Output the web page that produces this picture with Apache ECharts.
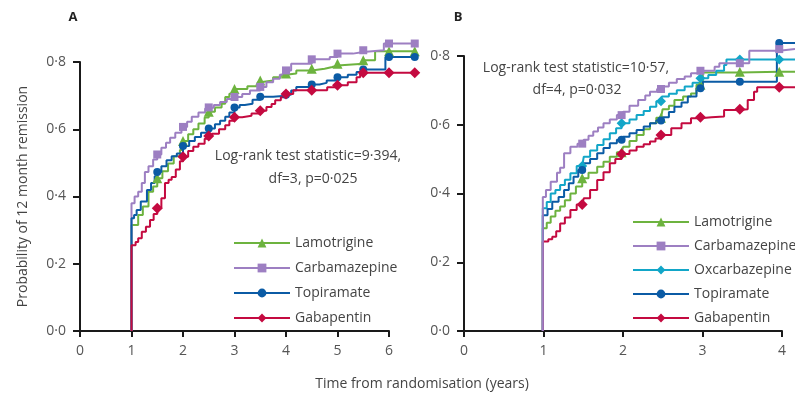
<!DOCTYPE html>
<html>
<head>
<meta charset="utf-8">
<script src="https://cdn.jsdelivr.net/npm/echarts@6/dist/echarts.min.js"></script>
<style>
html, body { margin: 0; padding: 0; background: #fff; }
#chart { width: 795px; height: 400px; }
</style>
</head>
<body>
<div id="chart"></div>
<script>
// tick labels
var yTicks = [0, 0.2, 0.4, 0.6, 0.8];
var yTickLabels = ['0·0', '0·2', '0·4', '0·6', '0·8'];
var marksA = [1.5, 2, 2.5, 3, 3.5, 4, 4.5, 5, 5.5, 6, 6.5];
var marksB = [1.5, 2, 2.5, 3, 3.5, 4];

// panel A (step points)
var lamA_t = [1, 1, 1.13, 1.22, 1.33, 1.42, 1.5, 1.6, 1.71, 1.82, 1.94, 2.0, 2.1, 2.2, 2.3, 2.42, 2.5, 2.62, 2.75, 2.82, 2.9, 3.0, 3.25, 3.45, 3.5, 3.75, 3.9, 4.0, 4.2, 4.5, 4.75, 4.9, 5.0, 5.5, 5.73, 6.0, 6.5];
var lamA_v = [0, 0.315, 0.345, 0.37, 0.414, 0.43, 0.454, 0.475, 0.498, 0.52, 0.538, 0.565, 0.585, 0.6, 0.617, 0.635, 0.652, 0.665, 0.676, 0.696, 0.706, 0.72, 0.728, 0.74, 0.745, 0.755, 0.762, 0.766, 0.775, 0.78, 0.785, 0.79, 0.795, 0.805, 0.832, 0.832, 0.832];
var carA_t = [1, 1, 1.06, 1.13, 1.2, 1.26, 1.33, 1.42, 1.5, 1.58, 1.67, 1.75, 1.85, 1.97, 2.08, 2.17, 2.3, 2.43, 2.5, 2.6, 2.72, 2.85, 3.0, 3.15, 3.3, 3.5, 3.62, 3.75, 3.88, 3.98, 4.1, 4.5, 4.85, 5.0, 5.3, 5.5, 5.9, 6.0, 6.5];
var carA_v = [0, 0.38, 0.4, 0.414, 0.44, 0.473, 0.49, 0.51, 0.525, 0.545, 0.56, 0.575, 0.59, 0.607, 0.622, 0.637, 0.65, 0.662, 0.665, 0.672, 0.681, 0.69, 0.696, 0.705, 0.715, 0.726, 0.74, 0.75, 0.762, 0.775, 0.795, 0.808, 0.815, 0.825, 0.83, 0.835, 0.855, 0.855, 0.855];
var topA_t = [1, 1, 1.05, 1.1, 1.18, 1.3, 1.38, 1.45, 1.5, 1.58, 1.68, 1.78, 1.88, 2.0, 2.12, 2.23, 2.35, 2.5, 2.62, 2.72, 2.82, 2.9, 3.0, 3.1, 3.2, 3.35, 3.5, 3.75, 4.0, 4.1, 4.2, 4.5, 4.65, 4.79, 5.0, 5.2, 5.37, 5.5, 5.93, 6.0, 6.5];
var topA_v = [0, 0.335, 0.345, 0.36, 0.385, 0.419, 0.44, 0.46, 0.473, 0.49, 0.508, 0.52, 0.528, 0.55, 0.565, 0.577, 0.59, 0.602, 0.615, 0.625, 0.637, 0.65, 0.665, 0.672, 0.676, 0.688, 0.697, 0.7, 0.703, 0.715, 0.726, 0.733, 0.738, 0.745, 0.755, 0.762, 0.77, 0.778, 0.815, 0.815, 0.815];
var gabA_t = [1, 1, 1.08, 1.13, 1.2, 1.28, 1.36, 1.43, 1.5, 1.58, 1.65, 1.72, 1.78, 1.86, 1.94, 2.0, 2.1, 2.2, 2.3, 2.42, 2.5, 2.56, 2.7, 2.82, 2.9, 3.0, 3.15, 3.33, 3.5, 3.62, 3.72, 3.79, 3.9, 4.0, 4.14, 4.5, 4.8, 5.0, 5.2, 5.37, 5.44, 5.5, 6.0, 6.5];
var gabA_v = [0, 0.255, 0.265, 0.276, 0.295, 0.31, 0.33, 0.348, 0.365, 0.395, 0.44, 0.45, 0.458, 0.48, 0.505, 0.518, 0.535, 0.548, 0.557, 0.572, 0.58, 0.587, 0.6, 0.612, 0.625, 0.636, 0.64, 0.647, 0.655, 0.666, 0.675, 0.686, 0.695, 0.705, 0.716, 0.716, 0.725, 0.731, 0.74, 0.755, 0.768, 0.768, 0.768, 0.768];

// panel B
var lamB_t = [1, 1, 1.05, 1.1, 1.16, 1.22, 1.28, 1.35, 1.42, 1.5, 1.58, 1.69, 1.77, 1.85, 1.94, 2.02, 2.1, 2.19, 2.28, 2.36, 2.44, 2.52, 2.6, 2.67, 2.78, 2.88, 2.95, 3.03, 3.5, 4.0, 4.2];
var lamB_v = [0, 0.299, 0.315, 0.333, 0.35, 0.362, 0.38, 0.4, 0.42, 0.444, 0.46, 0.478, 0.492, 0.507, 0.52, 0.536, 0.553, 0.57, 0.587, 0.604, 0.62, 0.645, 0.655, 0.672, 0.682, 0.691, 0.716, 0.752, 0.754, 0.754, 0.754];
var carB_t = [1, 1, 1.04, 1.1, 1.18, 1.22, 1.27, 1.35, 1.44, 1.52, 1.58, 1.64, 1.7, 1.77, 1.85, 1.94, 2.02, 2.1, 2.21, 2.3, 2.36, 2.45, 2.51, 2.6, 2.7, 2.8, 2.88, 3.0, 3.18, 3.24, 3.62, 4.0, 4.2];
var carB_v = [0, 0.39, 0.41, 0.434, 0.46, 0.475, 0.517, 0.536, 0.545, 0.556, 0.568, 0.58, 0.592, 0.604, 0.615, 0.628, 0.638, 0.655, 0.672, 0.685, 0.696, 0.704, 0.711, 0.722, 0.733, 0.74, 0.75, 0.757, 0.769, 0.779, 0.815, 0.82, 0.822];
var oxcB_t = [1, 1, 1.05, 1.1, 1.16, 1.22, 1.28, 1.35, 1.43, 1.52, 1.6, 1.69, 1.77, 1.85, 1.93, 2.0, 2.1, 2.19, 2.28, 2.36, 2.44, 2.51, 2.6, 2.7, 2.8, 2.9, 3.0, 3.1, 3.2, 3.3, 3.33, 4.0, 4.2];
var oxcB_v = [0, 0.357, 0.375, 0.4, 0.41, 0.425, 0.44, 0.459, 0.48, 0.507, 0.525, 0.541, 0.558, 0.575, 0.59, 0.604, 0.615, 0.628, 0.64, 0.652, 0.668, 0.682, 0.69, 0.7, 0.711, 0.722, 0.735, 0.745, 0.757, 0.774, 0.79, 0.79, 0.79];
var topB_t = [1, 1, 1.06, 1.12, 1.2, 1.27, 1.33, 1.39, 1.45, 1.52, 1.6, 1.69, 1.77, 1.85, 1.94, 2.02, 2.1, 2.19, 2.28, 2.36, 2.44, 2.52, 2.6, 2.67, 2.76, 2.84, 2.95, 3.03, 3.5, 3.97, 4.0, 4.2];
var topB_v = [0, 0.337, 0.355, 0.376, 0.39, 0.41, 0.43, 0.449, 0.468, 0.488, 0.5, 0.517, 0.532, 0.546, 0.556, 0.565, 0.575, 0.585, 0.595, 0.604, 0.612, 0.622, 0.637, 0.652, 0.665, 0.682, 0.706, 0.725, 0.725, 0.838, 0.838, 0.838];
var gabB_t = [1, 1, 1.07, 1.12, 1.17, 1.22, 1.28, 1.35, 1.43, 1.52, 1.6, 1.69, 1.77, 1.85, 1.92, 2.0, 2.1, 2.19, 2.28, 2.36, 2.43, 2.5, 2.63, 2.76, 2.88, 3.0, 3.14, 3.3, 3.5, 3.6, 3.68, 3.72, 4.0, 4.2];
var gabB_v = [0, 0.26, 0.267, 0.274, 0.29, 0.313, 0.33, 0.352, 0.368, 0.386, 0.41, 0.439, 0.462, 0.488, 0.5, 0.515, 0.525, 0.536, 0.543, 0.551, 0.56, 0.57, 0.59, 0.604, 0.619, 0.622, 0.624, 0.643, 0.645, 0.672, 0.696, 0.709, 0.709, 0.709];

var legendA = ['Lamotrigine', 'Carbamazepine', 'Topiramate', 'Gabapentin'];
var legendB = ['Lamotrigine', 'Carbamazepine', 'Oxcarbazepine', 'Topiramate', 'Gabapentin'];

var colors = {
    Lamotrigine: '#6db33f',
    Carbamazepine: '#9d7fc2',
    Oxcarbazepine: '#12a6c8',
    Topiramate: '#0b5ba5',
    Gabapentin: '#c40a40'
};
var symbols = {
    Lamotrigine: ['triangle', 10],
    Carbamazepine: ['rect', 8],
    Oxcarbazepine: ['diamond', 10],
    Topiramate: ['circle', 8],
    Gabapentin: ['diamond', 11]
};

var font = 'Open Sans';

// step points + markers at the half-year marks (marker sits on the step)
function buildData(ts, vs, marks) {
    var out = [];
    for (var i = 0; i < ts.length; i++) {
        out.push({ value: [ts[i], vs[i]], symbol: 'none' });
    }
    marks.forEach(function(m) {
        var k = -1;
        for (var j = 0; j < out.length; j++) {
            if (out[j].value[0] <= m) k = j;
        }
        if (out[k].value[0] === m) {
            delete out[k].symbol;
        } else {
            out.splice(k + 1, 0, { value: [m, out[k].value[1]] });
        }
    });
    return out;
}

function km(name, ts, vs, marks, idx) {
    return {
        name: name,
        type: 'line',
        step: 'end',
        xAxisIndex: idx,
        yAxisIndex: idx,
        clip: false,
        showSymbol: true,
        symbol: symbols[name][0],
        symbolSize: symbols[name][1],
        color: colors[name],
        lineStyle: { width: 2, color: colors[name] },
        itemStyle: { color: colors[name] },
        emphasis: { disabled: true },
        data: buildData(ts, vs, marks)
    };
}

// visible axes (grids 0 and 2)
function yAxisOpt(idx, withName) {
    return {
        type: 'value',
        gridIndex: idx,
        min: 0,
        max: 0.8,
        interval: 0.2,
        name: withName ? 'Probability of 12 month remission' : '',
        nameLocation: 'middle',
        nameGap: 50,
        nameTextStyle: { fontFamily: font, fontSize: 14, color: '#444' },
        axisLine: { show: true, lineStyle: { color: '#1a1a1a', width: 2 } },
        axisTick: { show: true, length: 7, lineStyle: { color: '#1a1a1a', width: 2 } },
        splitLine: { show: false },
        axisLabel: {
            margin: 14,
            fontFamily: font,
            fontSize: 14,
            color: '#555',
            formatter: function(v) {
                return yTickLabels[yTicks.indexOf(Math.round(v * 10) / 10)];
            }
        }
    };
}

function xAxisOpt(idx, max) {
    return {
        type: 'value',
        gridIndex: idx,
        min: 0,
        max: max,
        interval: 1,
        axisLine: { show: true, onZero: false, lineStyle: { color: '#1a1a1a', width: 2 } },
        axisTick: { show: true, length: 6, lineStyle: { color: '#1a1a1a', width: 2 } },
        splitLine: { show: false },
        axisLabel: { margin: 13, fontFamily: font, fontSize: 14, color: '#555' }
    };
}

// hidden axes for the curves, which run past the drawn axes
function hiddenAxis(idx, max) {
    return { type: 'value', gridIndex: idx, min: 0, max: max, show: false, splitLine: { show: false } };
}

function legendOpt(names, left, top, gap) {
    return {
        data: names,
        orient: 'vertical',
        left: left,
        top: top,
        itemWidth: 56,
        itemHeight: 11,
        itemGap: gap,
        selectedMode: false,
        textStyle: { fontFamily: font, fontSize: 14, color: '#444', lineHeight: 16 }
    };
}

function label(text, x, y, bold) {
    return {
        type: 'text',
        x: x,
        y: y,
        style: {
            text: text,
            fontFamily: font,
            fontSize: bold ? 13 : 14,
            fontWeight: bold ? 'bold' : 'normal',
            fill: bold ? '#222' : '#444',
            align: 'center',
            verticalAlign: 'middle'
        }
    };
}

var myChart = echarts.init(document.getElementById('chart'), null, { renderer: 'canvas' });
var option = {
    animation: false,
    backgroundColor: '#fff',
    grid: [
        { left: 80, top: 62, width: 309, height: 269 },
        { left: 80, top: 28.4, width: 339.9, height: 302.6 },
        { left: 464, top: 56, width: 318, height: 275 },
        { left: 464, top: 21.6, width: 333.9, height: 309.4 }
    ],
    xAxis: [xAxisOpt(0, 6), hiddenAxis(1, 6.6), xAxisOpt(2, 4), hiddenAxis(3, 4.2)],
    yAxis: [yAxisOpt(0, true), hiddenAxis(1, 0.9), yAxisOpt(2, false), hiddenAxis(3, 0.9)],
    legend: [
        legendOpt(legendA, 228, 230, 9),
        legendOpt(legendB, 627, 209, 8)
    ],
    series: [
        km('Lamotrigine', lamA_t, lamA_v, marksA, 1),
        km('Carbamazepine', carA_t, carA_v, marksA, 1),
        km('Topiramate', topA_t, topA_v, marksA, 1),
        km('Gabapentin', gabA_t, gabA_v, marksA, 1),
        km('Lamotrigine', lamB_t, lamB_v, marksB, 3),
        km('Oxcarbazepine', oxcB_t, oxcB_v, marksB, 3),
        km('Topiramate', topB_t, topB_v, marksB, 3),
        km('Gabapentin', gabB_t, gabB_v, marksB, 3),
        km('Carbamazepine', carB_t, carB_v, marksB, 3)
    ],
    graphic: [
        label('A', 73, 17, true),
        label('B', 458, 17, true),
        label('Log-rank test statistic=9·394,', 308, 156),
        label('df=3, p=0·025', 313, 179),
        label('Log-rank test statistic=10·57,', 576, 68),
        label('df=4, p=0·032', 577, 90),
        label('Time from randomisation (years)', 422, 384)
    ]
};
myChart.setOption(option);
</script>
</body>
</html>
